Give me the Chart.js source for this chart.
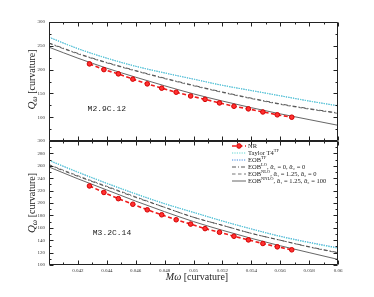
<!DOCTYPE html>
<html><head><meta charset="utf-8">
<script src="https://cdn.jsdelivr.net/npm/chart.js@4.4.1/dist/chart.umd.min.js"></script>
<style>
html,body{margin:0;padding:0;background:#fff;}
#wrap{position:relative;width:374px;height:297px;overflow:hidden;}
canvas{position:absolute;left:0;}
</style></head><body>
<div id="wrap">
<canvas id="cTop" width="374" height="150" style="top:0px"></canvas>
<canvas id="cBot" width="374" height="167" style="top:130px"></canvas>
</div>
<script>
// ---------- data ----------
const xCurve = [0.040,0.042,0.044,0.046,0.048,0.050,0.052,0.054,0.056,0.058,0.060];
const xNR = [0.0428,0.0438,0.0448,0.0458,0.0468,0.0478,0.0488,0.0498,0.0508,0.0518,0.0528,0.0538,0.0548,0.0558,0.0568];

// Panel 1: M2.9C.12
const nrTop    = [212,200,191,180,170,161,152.5,144.5,137.5,130,123,117.5,111,105,100];
const t4Top    = [268,244,224,207,193,180,167,156,145,134,124];
const eobTFTop = [268,244,224,207,193,180,167,156,145,134,124];
const loTop    = [256,234,215,198,182,167,153,140,128,118,109];
const nloTop   = [255,233,214,197,181,166,152,139,127,117,108];
const nnloTop  = [247,224,203,184,166,149,134,120,107,95,83];

// Panel 2: M3.2C.14
const nrBot    = [227.5,217,207,198,189,181,173,166,158.7,152.8,146.4,140.5,134.7,129.3,124.5];
const t4Bot    = [269,250,232,215,199,185,171,158,146,136,127];
const eobTFBot = [268.5,249.5,231.5,214.5,198.8,184.8,171,158.3,146.5,136.7,127.8];
const loBot    = [261,243,226,209,193,177,164,151,140,129.5,120];
const nloBot   = [262,244,227,210,193,177,164,151,140,129,119.5];
const nnloBot  = [258,239,221,203,186,170,156,143,131,120,109];

// ticks / labels
const xTickVals = [0.040,0.042,0.044,0.046,0.048,0.050,0.052,0.054,0.056,0.058,0.060];
const xTickLabels = ["","0.042","0.044","0.046","0.048","0.05","0.052","0.054","0.056","0.058","0.06"];
const yTickTop = [50,100,150,200,250,300];
const yTickTopLabels = ["","100","150","200","250","300"];
const yTickBot = [100,120,140,160,180,200,220,240,260,280,300];
const seriesNames = ["NR","Taylor T4^TF","EOB^TF","EOB^LO, ᾱ₁ = 0, ᾱ₂ = 0","EOB^NLO, ᾱ₁ = 1.25, ᾱ₂ = 0","EOB^NNLO, ᾱ₁ = 1.25, ᾱ₂ = 100"];
const panelNames = ["M2.9C.12","M3.2C.14"];

// ---------- styles ----------
const styles = [
  {borderColor:'#ee1c1c', borderWidth:1.6, borderDash:[4,2.5], pointRadius:2.3, pointBackgroundColor:'#ff3030', pointBorderColor:'#d40000', pointBorderWidth:1, tension:0},
  {borderColor:'#5fd6d2', borderWidth:1.2, borderDash:[1.2,1.2], pointRadius:0, cubicInterpolationMode:'monotone'},
  {borderColor:'#3d86e0', borderWidth:1.0, borderDash:[1.2,1.2], pointRadius:0, cubicInterpolationMode:'monotone'},
  {borderColor:'#444', borderWidth:0.9, borderDash:[4,2,1,2], pointRadius:0, cubicInterpolationMode:'monotone'},
  {borderColor:'#666', borderWidth:0.9, borderDash:[3.5,2.5], pointRadius:0, cubicInterpolationMode:'monotone'},
  {borderColor:'#555', borderWidth:0.9, borderDash:[], pointRadius:0, cubicInterpolationMode:'monotone'}
];

function pts(xs, ys){ return xs.map((x,i)=>({x:x, y:ys[i]})); }
function makeDatasets(series){
  return series.map((s,i)=>Object.assign({label:seriesNames[i], data:s, fill:false, order:i}, styles[i]));
}

const serif = '"Liberation Serif","DejaVu Serif",serif';

// frame + inward ticks
const frameTicks = {
  id:'frameTicks',
  afterDatasetsDraw(chart, args, o){
    const {ctx, chartArea:a} = chart;
    const xs = chart.scales.x, ys = chart.scales.y;
    ctx.save();
    ctx.strokeStyle = '#222'; ctx.lineWidth = 1;
    const L = Math.round(a.left)+0.5, R = Math.round(a.right)-0.5, T = Math.round(a.top)+0.5, B = Math.round(a.bottom)-0.5;
    ctx.beginPath(); ctx.rect(L, T, R-L, B-T); ctx.stroke();
    ctx.beginPath();
    const xv = o.xMajor, yv = o.yMajor;
    function xt(v, len){ const p = Math.round(xs.getPixelForValue(v))+0.5; ctx.moveTo(p,B); ctx.lineTo(p,B-len); ctx.moveTo(p,T); ctx.lineTo(p,T+len); }
    function yt(v, len){ const p = Math.round(ys.getPixelForValue(v))+0.5; ctx.moveTo(L,p); ctx.lineTo(L+len,p); ctx.moveTo(R,p); ctx.lineTo(R-len,p); }
    for(let i=0;i<xv.length;i++){ xt(xv[i],4); if(i<xv.length-1) xt((xv[i]+xv[i+1])/2,2); }
    for(let i=0;i<yv.length;i++){ yt(yv[i],4); if(i<yv.length-1) yt((yv[i]+yv[i+1])/2,2); }
    ctx.stroke();
    // panel name
    ctx.fillStyle = '#222';
    ctx.font = '8px "Liberation Mono","DejaVu Sans Mono",monospace';
    ctx.textAlign = 'center'; ctx.textBaseline = 'middle';
    ctx.fillText(o.name, xs.getPixelForValue(o.nameAt[0]), ys.getPixelForValue(o.nameAt[1]));
    // y title
    ctx.save();
    const cy = (a.top+a.bottom)/2 + o.titleShift;
    ctx.translate(31, cy); ctx.rotate(-Math.PI/2);
    const parts = [
      {t:'Q', f:'italic 11px '+serif, dy:0},
      {t:'ω', f:'italic 7.5px '+serif, dy:2.5},
      {t:' [curvature]', f:'10px '+serif, dy:0}
    ];
    let w = 0; parts.forEach(p=>{ctx.font=p.f; p.w=ctx.measureText(p.t).width; w+=p.w;});
    let x0 = -w/2; ctx.textAlign='left'; ctx.textBaseline='alphabetic';
    parts.forEach(p=>{ctx.font=p.f; ctx.fillText(p.t, x0, 3.5+p.dy); x0+=p.w;});
    ctx.restore();
    ctx.restore();
  }
};

const legendPlug = {
  id:'legendPlug',
  afterDraw(chart, args, o){
    if(!o.show) return;
    const ctx = chart.ctx;
    ctx.save();
    chart.data.datasets.forEach((d,i)=>{
      const y = o.y0 + i*o.dy;
      ctx.strokeStyle = d.borderColor; ctx.lineWidth = d.borderWidth; ctx.setLineDash(d.borderDash||[]);
      ctx.beginPath(); ctx.moveTo(o.x0, y); ctx.lineTo(o.x0+o.len, y); ctx.stroke();
      ctx.setLineDash([]);
      if(d.pointRadius>0){
        ctx.fillStyle=d.pointBackgroundColor; ctx.strokeStyle=d.pointBorderColor; ctx.lineWidth=1;
        ctx.beginPath(); ctx.arc(o.x0+o.len/2, y, d.pointRadius, 0, Math.PI*2); ctx.fill(); ctx.stroke();
      }
      const lab = d.label;
      let base = lab, sup = '', rest = '';
      const k = lab.indexOf('^');
      if(k>=0){ base = lab.slice(0,k); const r = lab.slice(k+1); const c = r.indexOf(','); if(c>=0){sup=r.slice(0,c); rest=r.slice(c);} else sup=r; }
      ctx.fillStyle='#222'; ctx.textAlign='left'; ctx.textBaseline='middle';
      let x = o.x0+o.len+2;
      ctx.font = '6.5px '+serif; ctx.fillText(base, x, y+0.5); x += ctx.measureText(base).width;
      if(sup){ ctx.font='4.5px '+serif; ctx.fillText(sup, x, y-1.8); x += ctx.measureText(sup).width; }
      if(rest){ ctx.font='6.5px '+serif; ctx.fillText(rest, x, y+0.5); }
    });
    // x title
    const parts = [
      {t:'Mω', f:'italic 10px '+serif},
      {t:' [curvature]', f:'10px '+serif}
    ];
    let w=0; parts.forEach(p=>{ctx.font=p.f; p.w=ctx.measureText(p.t).width; w+=p.w;});
    let x0 = o.xTitleX - w/2; ctx.textBaseline='alphabetic'; ctx.fillStyle='#222';
    parts.forEach(p=>{ctx.font=p.f; ctx.fillText(p.t, x0, o.xTitleY); x0+=p.w;});
    ctx.restore();
  }
};

function yAxis(vals, labels, min, max){
  return {
    type:'linear', min:min, max:max,
    afterFit(s){ s.width = 49; },
    afterBuildTicks(s){ s.ticks = vals.map(v=>({value:v})); },
    grid:{display:false, drawTicks:false}, border:{display:false},
    ticks:{padding:4, font:{family:serif, size:5}, color:'#333',
      callback:(v)=>{ const i = vals.indexOf(v); return labels? labels[i] : String(v); }}
  };
}

// Top chart
new Chart(document.getElementById('cTop'), {
  type:'line',
  data:{datasets: makeDatasets([pts(xNR,nrTop), pts(xCurve,t4Top), pts(xCurve,eobTFTop), pts(xCurve,loTop), pts(xCurve,nloTop), pts(xCurve,nnloTop)])},
  options:{
    responsive:false, animation:false, devicePixelRatio:1,
    layout:{padding:{left:0,right:36,top:22,bottom:9}},
    plugins:{legend:{display:false}, tooltip:{enabled:false},
      frameTicks:{xMajor:xTickVals, yMajor:yTickTop, name:panelNames[0], nameAt:[0.0440,118], titleShift:-2},
      legendPlug:{show:false}},
    scales:{
      x:{type:'linear', min:0.04, max:0.06, display:false},
      y:yAxis(yTickTop, yTickTopLabels, 50, 300)
    }
  },
  plugins:[frameTicks, legendPlug]
});

// Bottom chart
new Chart(document.getElementById('cBot'), {
  type:'line',
  data:{datasets: makeDatasets([pts(xNR,nrBot), pts(xCurve,t4Bot), pts(xCurve,eobTFBot), pts(xCurve,loBot), pts(xCurve,nloBot), pts(xCurve,nnloBot)])},
  options:{
    responsive:false, animation:false, devicePixelRatio:1,
    layout:{padding:{left:0,right:36,top:11,bottom:0}},
    plugins:{legend:{display:false}, tooltip:{enabled:false},
      frameTicks:{xMajor:xTickVals, yMajor:yTickBot, name:panelNames[1], nameAt:[0.04436,152], titleShift:0},
      legendPlug:{show:true, x0:232, len:14, y0:16, dy:7, xTitleX:197, xTitleY:150}},
    scales:{
      x:{type:'linear', min:0.04, max:0.06,
        afterFit(s){ s.height = 32; },
        afterBuildTicks(s){ s.ticks = xTickVals.map(v=>({value:v})); },
        grid:{display:false, drawTicks:false}, border:{display:false},
        ticks:{padding:3, maxRotation:0, autoSkip:false, font:{family:serif, size:5}, color:'#333',
          callback:(v)=>{ const i = xTickVals.findIndex(t=>Math.abs(t-v)<1e-9); return i>=0? xTickLabels[i] : ''; }}
      },
      y:yAxis(yTickBot, null, 100, 300)
    }
  },
  plugins:[frameTicks, legendPlug]
});
</script>
</body></html>
